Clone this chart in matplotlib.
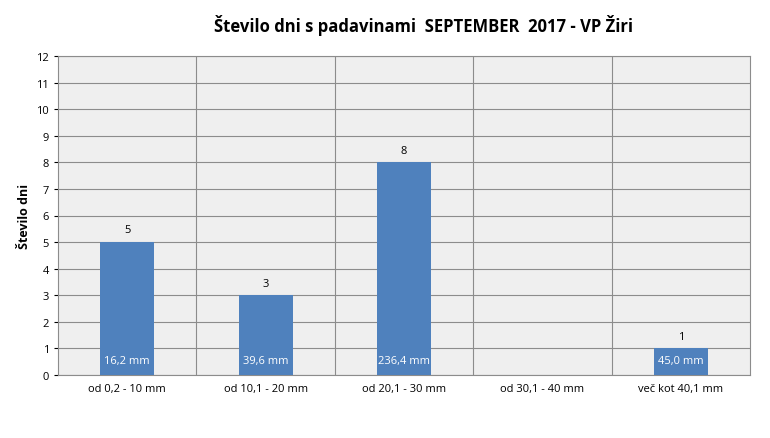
import matplotlib
matplotlib.use("Agg")
import matplotlib.pyplot as plt

categories = ["od 0,2 - 10 mm", "od 10,1 - 20 mm", "od 20,1 - 30 mm", "od 30,1 - 40 mm", "več kot 40,1 mm"]
days = [5, 3, 8, 0, 1]
amounts = ["16,2 mm", "39,6 mm", "236,4 mm", "", "45,0 mm"]

plt.rcParams['font.family'] = ['Open Sans', 'DejaVu Sans']
fig = plt.figure(figsize=(7.7, 4.39), dpi=100)
ax = fig.add_axes([58/770, 1-376/439, 692/770, 319/439])
ax.set_facecolor("#EFEFEF")
x = list(range(len(categories)))
ax.bar(x, days, width=0.39, color="#4F81BD", zorder=3)
for i, (d, a) in enumerate(zip(days, amounts)):
    if d > 0:
        ax.text(i, d + 0.25, str(d), ha="center", va="bottom", fontsize=8, zorder=4)
        ax.text(i, 0.55, a, ha="center", va="center", fontsize=8, color="white", zorder=4)
ax.set_xlim(-0.5, len(categories) - 0.5)
ax.set_ylim(0, 12)
ax.set_yticks(range(0, 13))
ax.set_xticks(x)
ax.set_xticklabels(categories, fontsize=8)
ax.tick_params(axis='y', labelsize=8, length=3)
ax.tick_params(axis='x', length=0, pad=6)
ax.grid(axis='y', color="#8C8C8C", linewidth=0.8, zorder=0)
for b in [0.5, 1.5, 2.5, 3.5]:
    ax.axvline(b, color="#8C8C8C", linewidth=0.8, zorder=0)
for s in ax.spines.values():
    s.set_color("#8C8C8C")
ax.set_ylabel("Število dni", fontsize=9, fontweight="bold")
fig.text(0.55, 1-25/439, "Število dni s padavinami  SEPTEMBER  2017 - VP Žiri", ha="center", va="center",
         fontsize=12, fontweight="bold")
fig.savefig("out.png", dpi=100)
